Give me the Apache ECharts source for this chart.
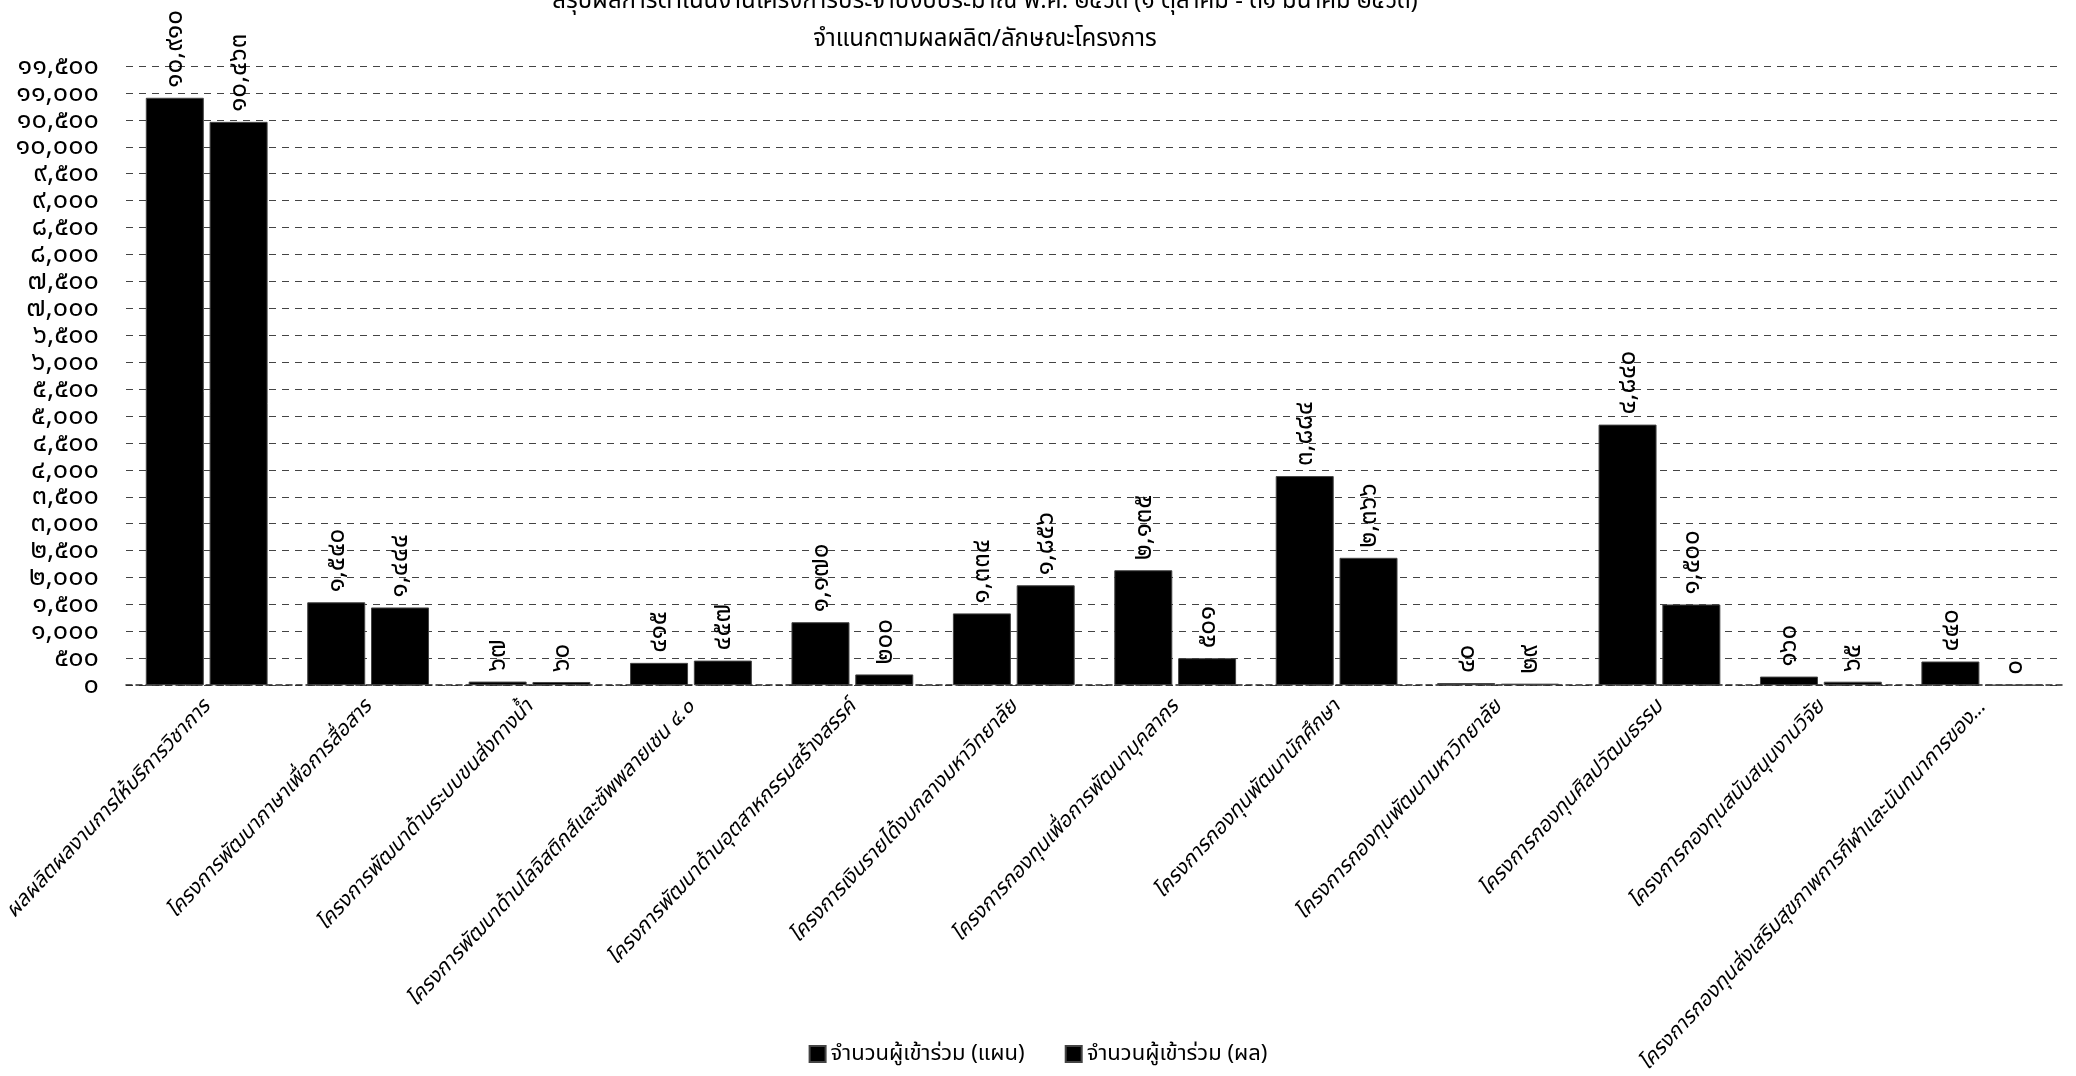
<!DOCTYPE html>
<html>
<head>
<meta charset="utf-8">
<script src="https://cdn.jsdelivr.net/npm/echarts@6/dist/echarts.min.js"></script>
<style>
html,body{margin:0;padding:0;background:#fff;}
#c{width:2076px;height:1076px;}
</style>
</head>
<body>
<div id="c"></div>
<script>
const categories = [
  'ผลผลิตผลงานการให้บริการวิชาการ',
  'โครงการพัฒนาภาษาเพื่อการสื่อสาร',
  'โครงการพัฒนาด้านระบบขนส่งทางน้ำ',
  'โครงการพัฒนาด้านโลจิสติกส์และซัพพลายเชน ๔.๐',
  'โครงการพัฒนาด้านอุตสาหกรรมสร้างสรรค์',
  'โครงการเงินรายได้งบกลางมหาวิทยาลัย',
  'โครงการกองทุนเพื่อการพัฒนาบุคลากร',
  'โครงการกองทุนพัฒนานักศึกษา',
  'โครงการกองทุนพัฒนามหาวิทยาลัย',
  'โครงการกองทุนศิลปวัฒนธรรม',
  'โครงการกองทุนสนับสนุนงานวิจัย',
  'โครงการกองทุนส่งเสริมสุขภาพการกีฬาและนันทนาการของ...'
];
const planValues   = [10910, 1540, 67, 415, 1170, 1334, 2135, 3884, 40, 4840, 160, 440];
const resultValues = [10463, 1444, 60, 457, 200, 1856, 501, 2366, 29, 1500, 65, 0];
const seriesNames = ['จำนวนผู้เข้าร่วม (แผน)', 'จำนวนผู้เข้าร่วม (ผล)'];
const titleLine1 = 'สรุปผลการดำเนินงานโครงการประจำปีงบประมาณ พ.ศ. ๒๕๖๓ (๑ ตุลาคม - ๓๑ มีนาคม ๒๕๖๓)';
const titleLine2 = 'จำแนกตามผลผลิต/ลักษณะโครงการ';
const yMin = 0, yMax = 11500, yStep = 500;

const thaiDigits = ['๐','๑','๒','๓','๔','๕','๖','๗','๘','๙'];
function toThai(n) {
  const s = Number(n).toLocaleString('en-US');
  return s.replace(/[0-9]/g, d => thaiDigits[+d]);
}

const FONT = '"Noto Sans", "Noto Sans Thai", sans-serif';
const chart = echarts.init(document.getElementById('c'));
chart.setOption({
  backgroundColor: '#fff',
  animation: false,
  title: [
    { text: titleLine1, left: 980, top: -16, textAlign: 'center',
      textStyle: { fontFamily: FONT, fontSize: 24, fontWeight: 'normal', color: '#000' } },
    { text: titleLine2, left: 980, top: 22, textAlign: 'center',
      textStyle: { fontFamily: FONT, fontSize: 24, fontWeight: 'normal', color: '#000' } }
  ],
  legend: {
    bottom: 6, left: 'center',
    itemWidth: 16, itemHeight: 16, itemGap: 40,
    icon: 'rect',
    textStyle: { fontFamily: FONT, fontSize: 22, color: '#000' },
    data: seriesNames
  },
  grid: { left: 126, right: 13, top: 66, bottom: 390, containLabel: false },
  xAxis: {
    type: 'category',
    data: categories,
    axisTick: { show: false },
    axisLine: { show: true, lineStyle: { color: '#222', type: [6, 4], width: 1.5 } },
    axisLabel: {
      interval: 0, rotate: 47, margin: 18,
      fontFamily: FONT, fontSize: 21, fontStyle: 'italic', color: '#000'
    }
  },
  yAxis: {
    type: 'value',
    min: yMin, max: yMax, interval: yStep,
    axisLine: { show: false },
    axisTick: { show: false },
    axisLabel: {
      margin: 27, fontFamily: FONT, fontSize: 27, color: '#000',
      formatter: v => toThai(v)
    },
    splitLine: { show: true, lineStyle: { color: '#444', type: [7, 6], width: 1.2 } }
  },
  series: [
    {
      name: seriesNames[0], type: 'bar', data: planValues,
      barWidth: 58, barGap: '10%',
      itemStyle: { color: '#000', borderColor: '#444', borderWidth: 1 },
      label: {
        show: true, position: 'top', rotate: 90, align: 'left', verticalAlign: 'middle',
        distance: 10, fontFamily: FONT, fontSize: 26, color: '#000',
        formatter: p => toThai(p.value)
      }
    },
    {
      name: seriesNames[1], type: 'bar', data: resultValues,
      barWidth: 58,
      itemStyle: { color: '#000', borderColor: '#444', borderWidth: 1 },
      label: {
        show: true, position: 'top', rotate: 90, align: 'left', verticalAlign: 'middle',
        distance: 10, fontFamily: FONT, fontSize: 26, color: '#000',
        formatter: p => toThai(p.value)
      }
    }
  ]
});
</script>
</body>
</html>
